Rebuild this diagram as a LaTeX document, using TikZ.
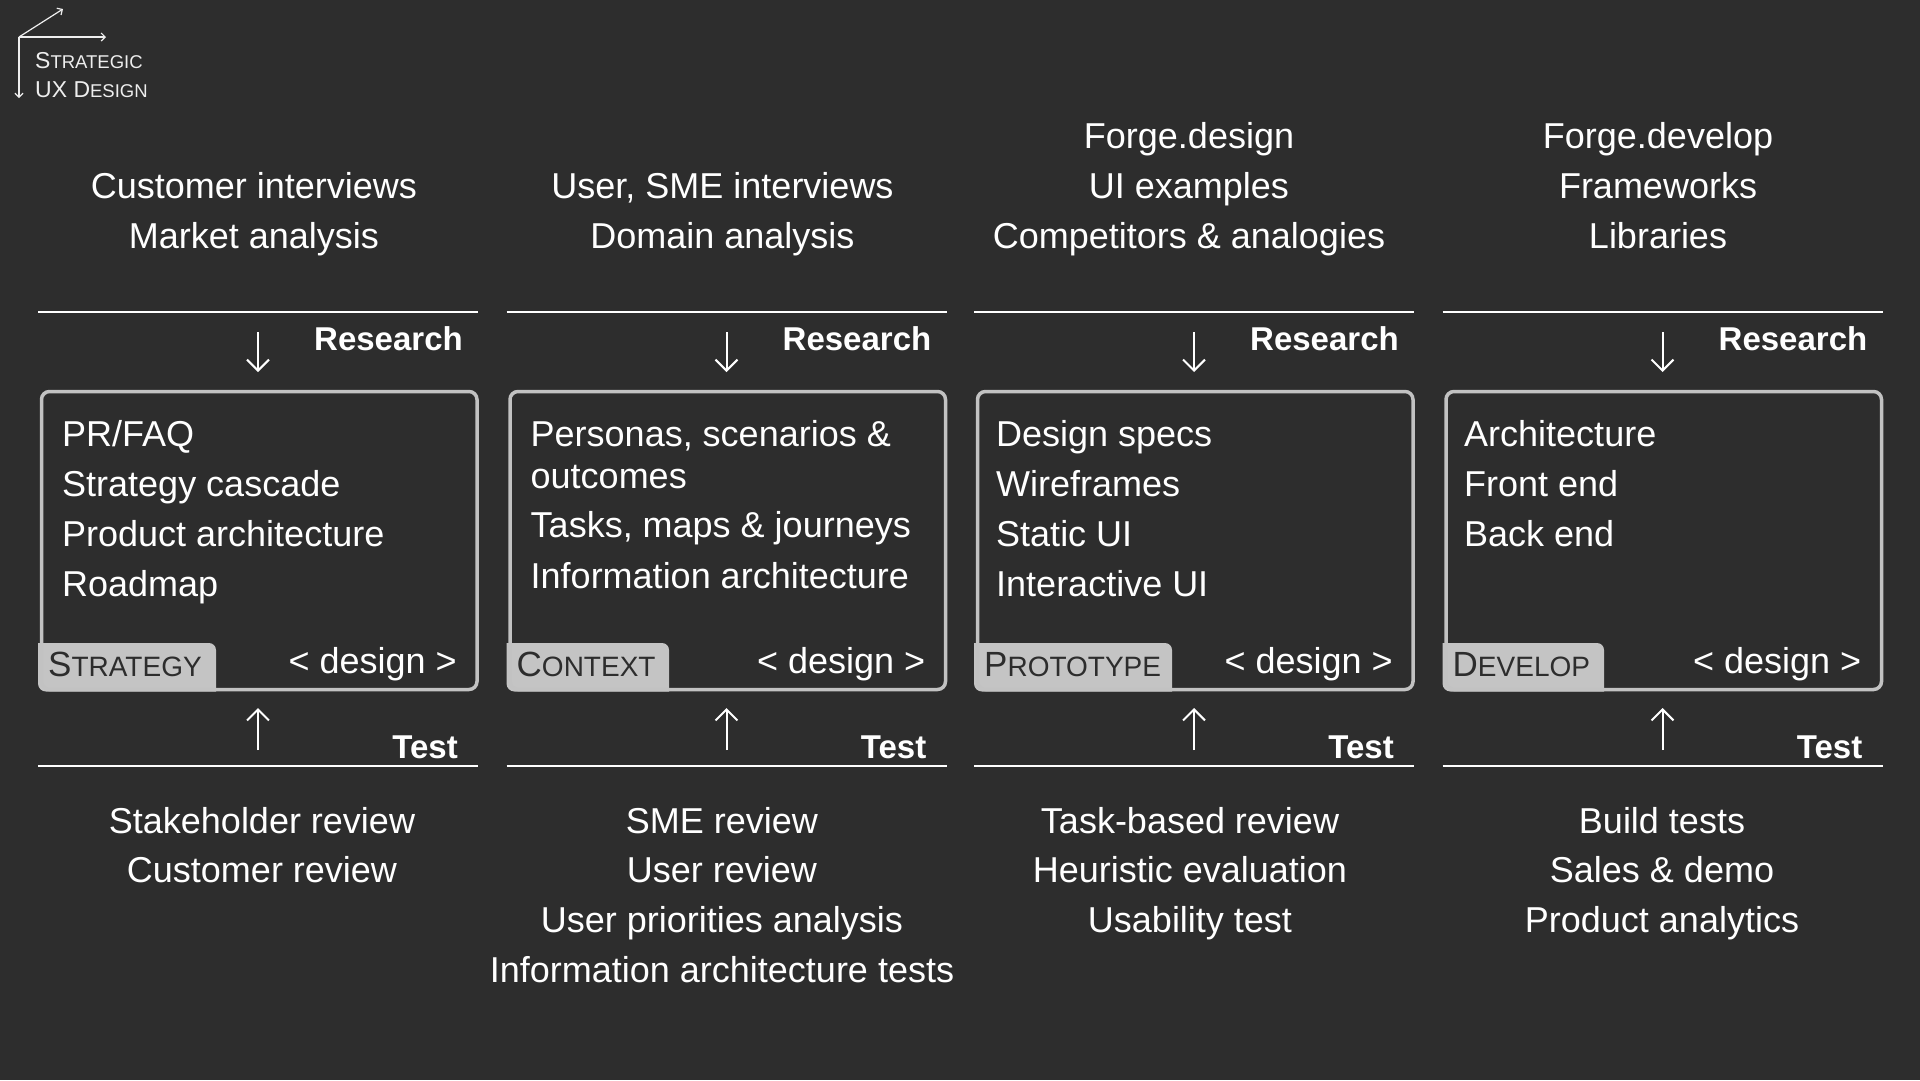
\documentclass[tikz,border=0pt]{standalone}
\usepackage{fontspec}
\setmainfont{Liberation Sans}
\usetikzlibrary{arrows.meta}
\definecolor{bg}{HTML}{2D2D2D}
\definecolor{boxgray}{HTML}{C2C2C2}
\definecolor{tagfill}{HTML}{C4C4C4}
\definecolor{tagink}{HTML}{2D2D2D}
\definecolor{logoink}{HTML}{EEEEEE}
\newcommand\bigsc[2]{{\fontsize{35}{35}\selectfont #1}{\fontsize{28}{28}\selectfont #2}}
\newcommand\logosc[2]{{\fontsize{23}{23}\selectfont #1}{\fontsize{18.5}{18.5}\selectfont #2}}
\tikzset{
  txt/.style={text=white, font=\fontsize{36}{43}\selectfont, inner sep=0pt},
  boldtxt/.style={text=white, font=\fontsize{33}{40}\selectfont\bfseries, inner sep=0pt},
  tagtxt/.style={text=tagink, inner sep=0pt},
  rule/.style={draw=white, line width=2pt},
  stagebox/.style={draw=boxgray, line width=3.5pt, rounded corners=8pt, inner sep=0pt, anchor=north west},
  arr/.style={draw=white, line width=2pt, -{Straight Barb[length=11pt,width=22pt,line width=2pt]}},
  logoarr/.style={draw=logoink, line width=1.2pt, -{Straight Barb[length=4pt,width=8pt,line width=1.2pt]}},
}
% #1 name, #2 left x, #3 tag first letter, #4 tag rest, #5 tag width
\newcommand\stage[5]{%
  \draw[rule] (#2,312) coordinate (#1tl) -- (#2+440,312) coordinate (#1tr);
  \draw[rule] (#2,766) coordinate (#1bl) -- (#2+440,766) coordinate (#1br);
  \node[boldtxt, anchor=base east] (#1research) at (#2+425,350) {Research};
  \node[boldtxt, anchor=base east] (#1test) at (#2+420,758) {Test};
  \coordinate (#1da) at (#2+220,332);
  \coordinate (#1db) at (#2+220,372);
  \coordinate (#1ua) at (#2+220,750);
  \coordinate (#1ub) at (#2+220,708);
  \draw[arr] (#1da) -- (#1db);
  \draw[arr] (#1ua) -- (#1ub);
  \begin{scope}
    \clip[rounded corners=8pt] (#2,388) rectangle (#2+439,691.5);
    \fill[tagfill, rounded corners=7pt] (#2-20,643) rectangle (#2+#5,712);
  \end{scope}
  \node[stagebox, minimum width=435.5pt, minimum height=298pt] (#1box) at (#2+1.75,389.75) {};
  \node[txt, anchor=base east] (#1design) at (#2+419,673) {< design >};
  \node[tagtxt, anchor=base west] (#1tag) at (#2+10,676) {\bigsc{#3}{#4}};
}
\begin{document}
\begin{tikzpicture}[x=1pt,y=-1pt]
\useasboundingbox (0,0) rectangle (1920,1080);
\fill[bg] (0,0) rectangle (1920,1080);

% logo
\coordinate (lo) at (19,37);
\coordinate (lx) at (106,37);
\coordinate (ly) at (19,98);
\coordinate (ld) at (63,9);
\draw[logoarr] (lo) -- (lx);
\draw[logoarr] (lo) -- (ly);
\draw[logoarr] (lo) -- (ld);
\node[text=logoink, inner sep=0pt, anchor=base west] (logo1) at (35,68) {\logosc{S}{TRATEGIC}};
\node[text=logoink, inner sep=0pt, anchor=base west] (logo2) at (35,97) {\logosc{UX D}{ESIGN}};

\stage{a}{38}{S}{TRATEGY}{178}
\stage{b}{506.5}{C}{ONTEXT}{162.5}
\stage{c}{974}{P}{ROTOTYPE}{198}
\stage{d}{1442.5}{D}{EVELOP}{161.5}

% top texts
\node[txt, anchor=base] (at2) at (254,198) {Customer interviews};
\node[txt, anchor=base] (at3) at (254,248) {Market analysis};
\node[txt, anchor=base] (bt2) at (722.5,198) {User, SME interviews};
\node[txt, anchor=base] (bt3) at (722.5,248) {Domain analysis};
\node[txt, anchor=base] (ct1) at (1189,148) {Forge.design};
\node[txt, anchor=base] (ct2) at (1189,198) {UI examples};
\node[txt, anchor=base] (ct3) at (1189,248) {Competitors \& analogies};
\node[txt, anchor=base] (dt1) at (1658,148) {Forge.develop};
\node[txt, anchor=base] (dt2) at (1658,198) {Frameworks};
\node[txt, anchor=base] (dt3) at (1658,248) {Libraries};

% box texts
\node[txt, anchor=base west] (ab1) at (62,446) {PR/FAQ};
\node[txt, anchor=base west] (ab2) at (62,496) {Strategy cascade};
\node[txt, anchor=base west] (ab3) at (62,546) {Product architecture};
\node[txt, anchor=base west] (ab4) at (62,596) {Roadmap};
\node[txt, anchor=base west] (bb1) at (530.5,446) {Personas, scenarios \&};
\node[txt, anchor=base west] (bb1b) at (530.5,488) {outcomes};
\node[txt, anchor=base west] (bb2) at (530.5,537) {Tasks, maps \& journeys};
\node[txt, anchor=base west] (bb3) at (530.5,588) {Information architecture};
\node[txt, anchor=base west] (cb1) at (996,446) {Design specs};
\node[txt, anchor=base west] (cb2) at (996,496) {Wireframes};
\node[txt, anchor=base west] (cb3) at (996,546) {Static UI};
\node[txt, anchor=base west] (cb4) at (996,596) {Interactive UI};
\node[txt, anchor=base west] (db1) at (1464,446) {Architecture};
\node[txt, anchor=base west] (db2) at (1464,496) {Front end};
\node[txt, anchor=base west] (db3) at (1464,546) {Back end};

% bottom texts
\node[txt, anchor=base] (ae1) at (262,833) {Stakeholder review};
\node[txt, anchor=base] (ae2) at (262,882) {Customer review};
\node[txt, anchor=base] (be1) at (722,833) {SME review};
\node[txt, anchor=base] (be2) at (722,882) {User review};
\node[txt, anchor=base] (be3) at (722,932) {User priorities analysis};
\node[txt, anchor=base] (be4) at (722,982) {Information architecture tests};
\node[txt, anchor=base] (ce1) at (1190,833) {Task-based review};
\node[txt, anchor=base] (ce2) at (1190,882) {Heuristic evaluation};
\node[txt, anchor=base] (ce3) at (1190,932) {Usability test};
\node[txt, anchor=base] (de1) at (1662,833) {Build tests};
\node[txt, anchor=base] (de2) at (1662,882) {Sales \& demo};
\node[txt, anchor=base] (de3) at (1662,932) {Product analytics};
\end{tikzpicture}
\end{document}
